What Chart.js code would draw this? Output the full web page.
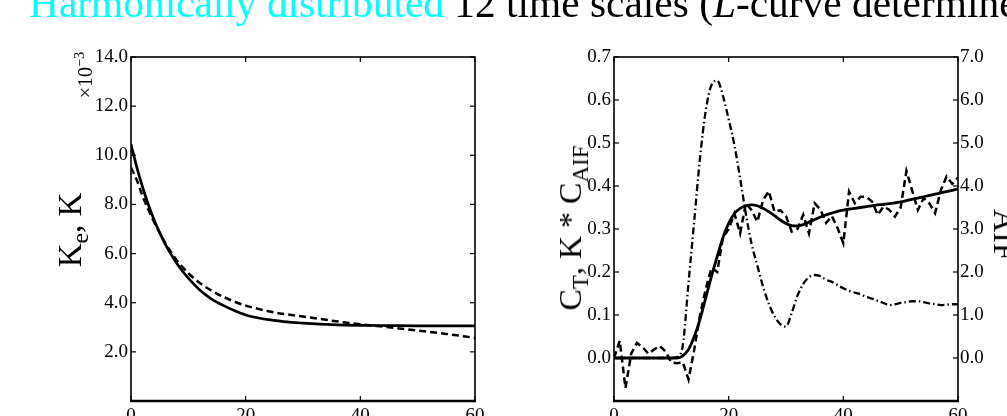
<!DOCTYPE html>
<html>
<head>
<meta charset="utf-8">
<script src="https://cdn.jsdelivr.net/npm/chart.js@4/dist/chart.umd.min.js"></script>
<style>
html,body{margin:0;padding:0;width:1007px;height:416px;overflow:hidden;background:#fff;}
#wrap{position:relative;width:1007px;height:416px;overflow:hidden;font-family:"Liberation Serif","Times New Roman",serif;color:#000;}
canvas{position:absolute;top:0;}
.lbl{position:absolute;white-space:nowrap;line-height:1;}
.rotL{transform:translate(-50%,-50%) rotate(-90deg);}
.rotR{transform:translate(-50%,-50%) rotate(90deg);}
sub,sup{font-size:72%;line-height:0;}
</style>
</head>
<body>
<div id="wrap">
  <canvas id="left" width="500" height="440" style="left:0"></canvas>
  <canvas id="right" width="507" height="440" style="left:500px"></canvas>
  <div class="lbl" style="left:29px;top:-17px;font-size:41.4px;"><span style="color:#00ffff">Harmonically distributed</span> 12 time scales (<i>L</i>-curve determined</div>
  <div class="lbl rotL" style="left:70px;top:230px;font-size:33px;">K<sub>e</sub>, K</div>
  <div class="lbl rotL" style="left:85px;top:75px;font-size:20px;">&times;10<sup>&minus;3</sup></div>
  <div class="lbl rotL" style="left:570px;top:228px;font-size:32px;">C<sub>T</sub>, K * C<sub>AIF</sub></div>
  <div class="lbl rotR" style="left:1005px;top:235px;font-size:32px;">AIF</div>
</div>
<script>
// ---- Left panel data (values ×10^-3) ----
const timeK = [0,1,2,3,4,5,6,7,8,9,10,12,14,16,18,20,22,24,26,28,30,35,40,45,50,55,60];
const kTrue = [10.45,9.53,8.72,8.01,7.39,6.85,6.37,5.96,5.60,5.28,5.00,4.52,4.16,3.90,3.68,3.50,3.39,3.31,3.25,3.20,3.17,3.11,3.08,3.07,3.06,3.06,3.06];
const kEst  = [9.50,9.00,8.35,7.80,7.30,6.85,6.42,6.05,5.72,5.45,5.20,4.80,4.50,4.25,4.05,3.88,3.76,3.65,3.56,3.50,3.44,3.27,3.12,3.00,2.87,2.73,2.57];
const kTicks = [2,4,6,8,10,12,14];

// ---- Right panel data ----
const timeC = [0,1,2,3,4,5,6,7,8,9,10,11,12,13,14,15,16,17,18,19,20,21,22,23,24,25,26,27,28,29,30,31,32,33,34,35,36,37,38,39,40,41,42,43,44,45,46,47,48,49,50,51,52,53,54,55,56,57,58,59,60];
const ctData = [0.00,0.04,-0.07,0.01,0.035,0.025,0.01,0.02,0.028,0.015,-0.01,-0.012,-0.01,-0.05,0.02,0.10,0.16,0.21,0.20,0.28,0.30,0.336,0.29,0.36,0.344,0.317,0.367,0.388,0.34,0.344,0.33,0.294,0.30,0.333,0.29,0.36,0.345,0.314,0.33,0.302,0.267,0.387,0.36,0.375,0.375,0.364,0.333,0.352,0.345,0.329,0.35,0.435,0.39,0.344,0.372,0.36,0.337,0.39,0.422,0.405,0.42];
const fitData = [0,0,0,0,0,0,0,0,0,0,0,0,0.005,0.02,0.05,0.09,0.14,0.19,0.236,0.28,0.313,0.336,0.348,0.354,0.356,0.354,0.348,0.340,0.331,0.321,0.313,0.308,0.307,0.310,0.316,0.322,0.328,0.333,0.337,0.341,0.344,0.346,0.348,0.350,0.352,0.354,0.356,0.357,0.359,0.361,0.363,0.366,0.369,0.372,0.375,0.378,0.381,0.384,0.387,0.390,0.393];
const aifData = [0,0,0,0,0,0,0,0,0,0,0,0.02,0.3,1.75,3.2,4.65,5.75,6.35,6.45,6.1,5.55,4.95,4.18,3.35,2.65,2.15,1.66,1.26,0.97,0.79,0.73,1.05,1.45,1.72,1.88,1.93,1.9,1.82,1.77,1.7,1.62,1.56,1.52,1.48,1.42,1.38,1.33,1.28,1.23,1.25,1.28,1.3,1.32,1.32,1.3,1.27,1.25,1.23,1.24,1.25,1.25];
const xTicks = [0,20,40,60];
const ctLeftTicks = [0,0.1,0.2,0.3,0.4,0.5,0.6,0.7];
const aifTicks = [0,1,2,3,4,5,6,7];

const pts = (xs, ys) => xs.map((x,i)=>({x:x, y:ys[i]}));
const FONT = {family:"'Liberation Serif','Times New Roman',serif", size:19};
const NOGRID = {display:false, drawTicks:false};

const boxTicks = {
  id:'boxTicks',
  afterDatasetsDraw(chart, args, opts){
    const {ctx, chartArea:a} = chart;
    const L = 5;
    ctx.save();
    ctx.strokeStyle = '#000';
    ctx.lineWidth = 1.2;
    const line=(x1,y1,x2,y2)=>{ctx.beginPath();ctx.moveTo(x1,y1);ctx.lineTo(x2,y2);ctx.stroke();};
    const xs = chart.scales.x;
    xs.ticks.forEach(t=>{const p=xs.getPixelForValue(t.value); line(p,a.bottom,p,a.bottom-L); line(p,a.top,p,a.top+L);});
    (opts.leftScales||[]).forEach(id=>{const s=chart.scales[id]; s.ticks.forEach(t=>{const p=s.getPixelForValue(t.value); line(a.left,p,a.left+L,p);});});
    (opts.rightScales||[]).forEach(id=>{const s=chart.scales[id]; s.ticks.forEach(t=>{const p=s.getPixelForValue(t.value); line(a.right,p,a.right-L,p);});});
    ctx.lineWidth = 1.6;
    ctx.strokeRect(a.left, a.top, a.right-a.left, a.bottom-a.top);
    ctx.lineWidth = 2.6;
    line(a.left-1, a.bottom, a.right+1, a.bottom);
    ctx.restore();
  }
};

const xScale = (h) => ({
  type:'linear', min:0, max:60,
  grid:NOGRID, border:{display:false},
  afterBuildTicks: s => { s.ticks = xTicks.map(v=>({value:v})); },
  ticks:{font:FONT, color:'#000', padding:4, maxRotation:0, autoSkip:false, callback:v=>String(v)},
  afterFit: s => { s.height = h; }
});

new Chart(document.getElementById('left'), {
  type:'line',
  data:{datasets:[
    {data:pts(timeK,kTrue), borderColor:'#000', borderWidth:2.7, pointRadius:0, cubicInterpolationMode:'monotone', fill:false},
    {data:pts(timeK,kEst), borderColor:'#000', borderWidth:2.5, borderDash:[7,4], pointRadius:0, cubicInterpolationMode:'monotone', fill:false}
  ]},
  options:{
    responsive:false, animation:false, devicePixelRatio:1,
    layout:{padding:{top:57,right:25,left:0,bottom:0}},
    plugins:{legend:{display:false}, tooltip:{enabled:false}, boxTicks:{leftScales:['y'], rightScales:['y']}},
    scales:{
      x: xScale(39),
      y:{type:'linear', min:0, max:14,
         grid:NOGRID, border:{display:false},
         afterBuildTicks: s => { s.ticks = kTicks.map(v=>({value:v})); },
         ticks:{font:FONT, color:'#000', padding:3, callback:v=>v.toFixed(1)},
         afterFit: s => { s.width = 131; }}
    }
  },
  plugins:[boxTicks]
});

new Chart(document.getElementById('right'), {
  type:'line',
  data:{datasets:[
    {data:pts(timeC,fitData), yAxisID:'y', borderColor:'#000', borderWidth:2.8, pointRadius:0, cubicInterpolationMode:'monotone', fill:false},
    {data:pts(timeC,ctData), yAxisID:'y', borderColor:'#000', borderWidth:2.5, borderDash:[7,4], pointRadius:0, tension:0, fill:false},
    {data:pts(timeC,aifData), yAxisID:'y1', borderColor:'#000', borderWidth:2.3, borderDash:[7,3,1.5,3], pointRadius:0, cubicInterpolationMode:'monotone', fill:false}
  ]},
  options:{
    responsive:false, animation:false, devicePixelRatio:1,
    layout:{padding:{top:57,right:0,left:0,bottom:0}},
    plugins:{legend:{display:false}, tooltip:{enabled:false}, boxTicks:{leftScales:['y'], rightScales:['y1']}},
    scales:{
      x: xScale(39),
      y:{type:'linear', position:'left', min:-0.1, max:0.7,
         grid:NOGRID, border:{display:false},
         afterBuildTicks: s => { s.ticks = ctLeftTicks.map(v=>({value:v})); },
         ticks:{font:FONT, color:'#000', padding:3, callback:v=>v.toFixed(1)},
         afterFit: s => { s.width = 114; }},
      y1:{type:'linear', position:'right', min:-1, max:7,
         grid:NOGRID, border:{display:false},
         afterBuildTicks: s => { s.ticks = aifTicks.map(v=>({value:v})); },
         ticks:{font:FONT, color:'#000', padding:2, callback:v=>v.toFixed(1)},
         afterFit: s => { s.width = 49; }}
    }
  },
  plugins:[boxTicks]
});
</script>
</body>
</html>
